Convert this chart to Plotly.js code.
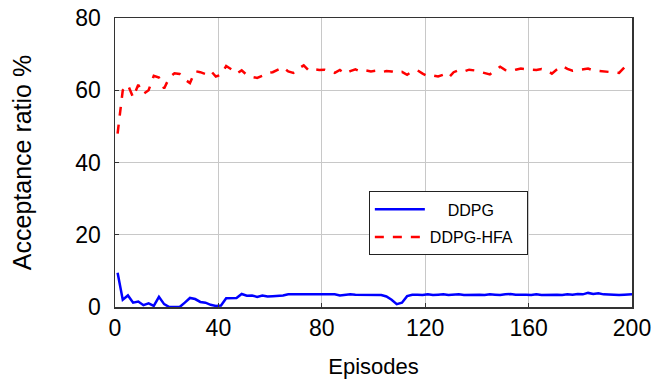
<!DOCTYPE html>
<html><head><meta charset="utf-8">
<script src="https://cdn.plot.ly/plotly-3.0.1.min.js"></script>
<style>html,body{margin:0;padding:0;background:#fff}#chart{width:654px;height:379px}</style>
</head><body><div id="chart"></div>
<script>
const episodes = [1,3,5,7,9,11,13,15,17,19,21,23,25,27,29,31,33,35,37,39,41,43,45,47,49,51,53,55,57,59,61,63,65,67,69,71,73,75,77,79,81,83,85,87,89,91,93,95,97,99,101,103,105,107,109,111,113,115,117,119,121,123,125,127,129,131,133,135,137,139,141,143,145,147,149,151,153,155,157,159,161,163,165,167,169,171,173,175,177,179,181,183,185,187,189,191,193,195,197,199,200];
const ddpg = [9.5,2,3.2,1.2,1.5,0.5,1,0.3,2.8,0.8,0,0,0,1.2,2.5,2.2,1.4,1.2,0.6,0.3,0.4,2.4,2.4,2.5,3.6,3.1,3.2,2.8,3.2,2.9,3,3,3.2,3.5,3.5,3.4,3.4,3.3,3.5,3.4,3.3,3.4,3.5,3.2,3.4,3.5,3.4,3.4,3.3,3.5,3.4,3.3,2.9,2.0,0.8,1.2,3.0,3.4,3.4,3.3,3.5,3.3,3.4,3.5,3.3,3.4,3.5,3.3,3.4,3.5,3.4,3.3,3.5,3.4,3.3,3.5,3.6,3.4,3.5,3.4,3.3,3.5,3.3,3.4,3.5,3.4,3.3,3.5,3.4,3.6,3.5,3.9,3.6,3.8,3.5,3.4,3.5,3.3,3.4,3.4,3.5];
const ddpgHfa = [48,60,61.5,58,61.5,59,60,64,63.5,60.5,63.5,64.7,64.5,63,62,65.3,65,64.5,65.4,63.8,64.3,66.7,65.8,64.6,65.5,64.2,63.7,63.4,64,64.8,65,65.8,66.4,65.2,64.8,66,66.9,65.4,65.8,65.6,65.7,65.2,64.8,65.6,64.6,65.3,65.8,65.2,65.5,65.2,65.4,65,65.3,65.2,64.8,65.1,64.3,65.2,65.5,64.6,63.9,64.1,63.8,64.3,63.4,65,65.6,65.2,65.7,65.5,65.1,64.8,64.4,65.5,66.5,65.6,65.3,65.7,66,65.8,65.7,65.6,65.9,65.5,64.6,65.8,66.7,65.9,65.4,65.6,65.8,66,65.5,65.4,65.3,65.1,65,64.8,66.3,65.9,66];
const seriesNames = ['DDPG','DDPG-HFA'];
const xTicks = [0,40,80,120,160,200];
const yTicks = [0,20,40,60,80];

const font = 'Liberation Sans, Arial, sans-serif';
const nb = n => '\u00a0'.repeat(n);
const traces = [
  {x: episodes, y: ddpg, name: nb(4) + seriesNames[0], legendgroup: 'a', mode: 'lines', line: {color: '#0000ff', width: 2.5}},
  {x: episodes, y: ddpgHfa, name: seriesNames[1] + nb(2), legendgroup: 'b', mode: 'lines', line: {color: '#ff0000', width: 2.5, dash: 'dash'}}
];
const axisCommon = {
  showline: true, linecolor: '#333', linewidth: 1.5, mirror: true,
  showgrid: true, gridcolor: '#c8c8c8', gridwidth: 1,
  zeroline: false, ticks: 'inside', ticklen: 4, tickcolor: '#333',
  ticklabeloverflow: 'allow',
  tickfont: {family: font, size: 23, color: '#000'}
};
const layout = {
  width: 654, height: 379,
  margin: {l: 115, r: 22, t: 18, b: 72},
  paper_bgcolor: '#fff', plot_bgcolor: '#fff',
  font: {family: font, color: '#000'},
  showlegend: true,
  legend: {x: 0.491, y: 0.40, xanchor: 'left', yanchor: 'top',
    bordercolor: '#222', borderwidth: 1, bgcolor: '#fff',
    traceorder: 'grouped', tracegroupgap: 4,
    font: {family: font, size: 16, color: '#000'}, itemwidth: 50},
  xaxis: Object.assign({}, axisCommon, {range: [0, 200], tickvals: xTicks,
    title: {text: 'Episodes', font: {family: font, size: 22}, standoff: 18}}),
  yaxis: Object.assign({}, axisCommon, {range: [0, 80], tickvals: yTicks, ticklabelstandoff: 8,
    title: {text: 'Acceptance ratio %', font: {family: font, size: 25}, standoff: 36}})
};
Plotly.newPlot('chart', traces, layout, {displayModeBar: false, staticPlot: true});
</script>
</body></html>
